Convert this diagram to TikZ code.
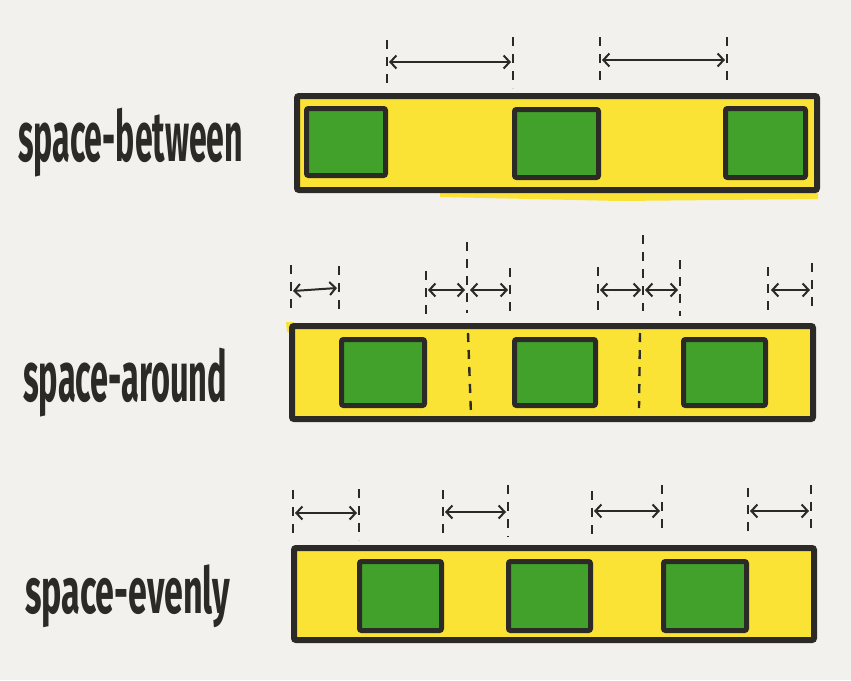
\documentclass[tikz,border=0pt]{standalone}
\usepackage{fontspec}
\usepackage{graphicx}
\setmainfont{Fira Sans}
\usetikzlibrary{arrows.meta}
\definecolor{bg}{RGB}{242,241,238}
\definecolor{ink}{RGB}{43,42,38}
\definecolor{marker}{RGB}{250,227,52}
\definecolor{leaf}{RGB}{66,161,43}
\tikzset{
  container/.style={draw=ink, fill=marker, line width=6pt, rounded corners=2pt, inner sep=0pt, outer sep=0pt},
  item/.style={draw=ink, fill=leaf, line width=5pt, rounded corners=2pt, inner sep=0pt, outer sep=0pt},
  guide/.style={draw=ink, line width=2.4pt, dash pattern=on 9pt off 8pt},
  gap/.style={draw=ink, line width=2pt, {Straight Barb[length=6pt,width=13pt]}-{Straight Barb[length=6pt,width=13pt]}},
  lbl/.style={inner sep=0pt, anchor=north west, text=ink, font=\bfseries}
}
\begin{document}
\begin{tikzpicture}[x=1pt,y=-1pt]
\fill[bg] (0,0) rectangle (851,680);
\useasboundingbox (0,0) rectangle (851,680);

% labels
\node[lbl] (lbl1) at (18,108) {\resizebox*{225pt}{69pt}{space-between}};
\node[lbl] (lbl2) at (23,348) {\resizebox*{204pt}{69pt}{space-around}};
\node[lbl] (lbl3) at (25,565) {\resizebox*{205pt}{63pt}{space-evenly}};

% marker smears
\fill[marker] (440,192) -- (818,192) -- (818,199) -- (620,201) -- (440,197) -- cycle;
\fill[marker] (286,322) -- (294,322) -- (294,334) -- (287,332) -- cycle;

% row 1: space-between
\node[container, minimum width=520pt, minimum height=94pt] (c1) at (557,143) {};
\node[item, minimum width=79pt, minimum height=67pt] (b11) at (346,142) {};
\node[item, minimum width=84pt, minimum height=68pt] (b12) at (556.5,143.5) {};
\node[item, minimum width=80pt, minimum height=69pt] (b13) at (765.5,143) {};

% row 2: space-around
\node[container, minimum width=521pt, minimum height=93pt] (c2) at (552.5,372.5) {};
\node[item, minimum width=83pt, minimum height=66pt] (b21) at (383,372.5) {};
\node[item, minimum width=81pt, minimum height=66pt] (b22) at (555,372.5) {};
\node[item, minimum width=82pt, minimum height=66pt] (b23) at (724.5,372.5) {};

% row 3: space-evenly
\node[container, minimum width=520pt, minimum height=92pt] (c3) at (554,594) {};
\node[item, minimum width=82pt, minimum height=69pt] (b31) at (400.5,596) {};
\node[item, minimum width=82pt, minimum height=69pt] (b32) at (549.5,596) {};
\node[item, minimum width=83pt, minimum height=69pt] (b33) at (705,596) {};

% guide lines (dashed)
\foreach \n/\xa/\ya/\xb/\yb in {
  a/387/40/387/83, b/513/37/513/88, c/600/37/600/87, d/727/37/727/87,
  e/291/265/291/313, f/339/266/339/316, g/426/271/426/314, h/467/242/467/313,
  i/510/268/510/313, j/598/267/598/314, k/643/235/643/311, l/680/260/680/316,
  m/768/267/768/311, n/812/263/812/312,
  o/468/333/471/415, p/640/333/639/408,
  q/293/490/293/537, r/359/489/359/540, s/443/490/443/537, t/508/485/508/537,
  u/592/491/592/540, v/662/485/662/535, w/748/488/748/535, z/811/485/811/535}{
  \coordinate (g\n t) at (\xa,\ya);
  \coordinate (g\n b) at (\xb,\yb);
  \draw[guide] (g\n t) -- (g\n b);
}

% gap arrows
\foreach \n/\xa/\ya/\xb/\yb in {
  a/389/62/511/62, b/602/60/725/60,
  c/293/291/337/288, d/428/290/465/290, e/470/290/508/290,
  f/600/290/641/290, g/645/290/678/290, h/771/290/810/290,
  i/295/513/357/513, j/445/512/506/512, k/594/511/660/511, l/750/511/809/511}{
  \coordinate (s\n) at (\xa,\ya);
  \coordinate (e\n) at (\xb,\yb);
  \draw[gap] (s\n) -- (e\n);
}
\end{tikzpicture}
\end{document}
